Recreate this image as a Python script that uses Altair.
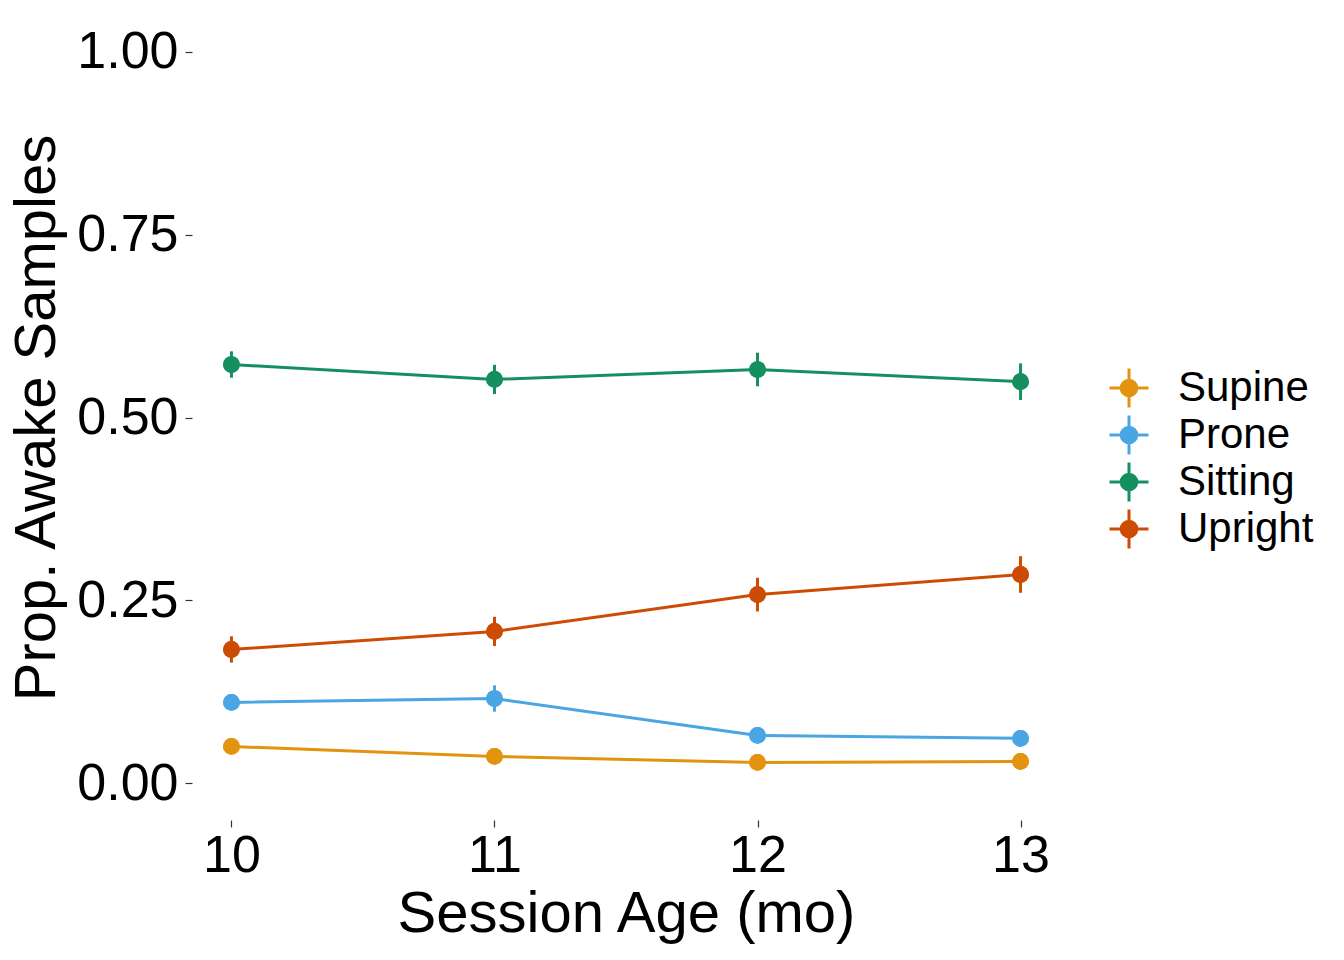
import altair as alt
import pandas as pd

ages = [10, 11, 12, 13]
positions = ["Supine", "Prone", "Sitting", "Upright"]
colors = ["#E3930F", "#4AA5E3", "#148F5F", "#CC4C03"]

supine = [0.0505, 0.0369, 0.0287, 0.030]
prone = [0.1107, 0.116, 0.0656, 0.0615]
sitting = [0.5724, 0.552, 0.5656, 0.549]
upright = [0.183, 0.2077, 0.258, 0.2855]

supine_se = [0.008, 0.008, 0.007, 0.007]
prone_se = [0.010, 0.018, 0.008, 0.008]
sitting_se = [0.018, 0.020, 0.023, 0.025]
upright_se = [0.018, 0.020, 0.023, 0.025]

rows = []
for name, vals, ses in [("Supine", supine, supine_se), ("Prone", prone, prone_se),
                        ("Sitting", sitting, sitting_se), ("Upright", upright, upright_se)]:
    for a, v, s in zip(ages, vals, ses):
        rows.append({"age": a, "pos": name, "prop": v, "lo": v - s, "hi": v + s})
df = pd.DataFrame(rows)

FONT = "Liberation Sans"
sym = "M-1,0L1,0M0,-1L0,1M-0.4,0A0.4,0.4,0,1,0,0.4,0A0.4,0.4,0,1,0,-0.4,0Z"

variants = [
    {"symbols": {"update": {
        "fill": {"signal": "scale('color', datum.value)"},
        "stroke": {"signal": "scale('color', datum.value)"},
        "strokeWidth": {"value": 3}}}},
    {"symbols": {"update": {
        "fill": {"expr": "scale('color', datum.value)"},
        "stroke": {"expr": "scale('color', datum.value)"}}}},
    None,
]


def build(enc, rowpad):
    lk = dict(
        title=None, orient="none", legendX=916, legendY=352,
        symbolType=sym, symbolSize=1521, labelFontSize=42, labelFont=FONT,
        labelColor="black", labelOffset=28, labelLimit=400, symbolStrokeWidth=3,
        symbolOpacity=1,
    )
    if rowpad is not None:
        lk["rowPadding"] = rowpad
    if enc is not None:
        lk["encode"] = enc
    color = alt.Color("pos:N", scale=alt.Scale(domain=positions, range=colors),
                      legend=alt.Legend(**lk))

    x = alt.X("age:Q", scale=alt.Scale(domain=[9.85, 13.15], nice=False, zero=False),
              axis=alt.Axis(values=ages, format="d", title="Session Age (mo)",
                            grid=False, domain=False, tickSize=7, tickWidth=1.2,
                            tickColor="#333333", labelFontSize=52, labelFont=FONT,
                            labelColor="black", labelPadding=3, titleFontSize=58,
                            titleFont=FONT, titleFontWeight="normal", titleColor="black",
                            titlePadding=4))
    y = alt.Y("prop:Q", scale=alt.Scale(domain=[-0.05, 1.05], nice=False, zero=False),
              axis=alt.Axis(values=[0, 0.25, 0.5, 0.75, 1.0], format=".2f",
                            title="Prop. Awake Samples", grid=False, domain=False,
                            tickSize=7, tickWidth=1.2, tickColor="#333333",
                            labelFontSize=52, labelFont=FONT, labelColor="black",
                            labelPadding=7, titleFontSize=58, titleFont=FONT,
                            titleFontWeight="normal", titleColor="black", titlePadding=10))

    base = alt.Chart(df)
    pts = base.mark_point(filled=True, size=280, opacity=1, strokeWidth=0).encode(x=x, y=y, color=color)
    lines = base.mark_line(strokeWidth=3).encode(x=x, y=y, color=color)
    bars = base.mark_rule(strokeWidth=3).encode(x=x, y=alt.Y("lo:Q"), y2="hi:Q", color=color)

    ch = alt.layer(pts, lines, bars, pts).properties(
        width=868, height=805,
        background="white",
        autosize=alt.AutoSizeParams(type="none"),
        padding={"left": 184, "top": 7, "right": 270, "bottom": 130},
    ).configure_view(stroke=None)
    ch.to_dict()
    return ch


chart = None
for rp in [-5, None]:
    for v in variants:
        try:
            chart = build(v, rp)
            break
        except Exception:
            continue
    if chart is not None:
        break

chart.save("out.html", embed_options={"renderer": "svg", "actions": False})
